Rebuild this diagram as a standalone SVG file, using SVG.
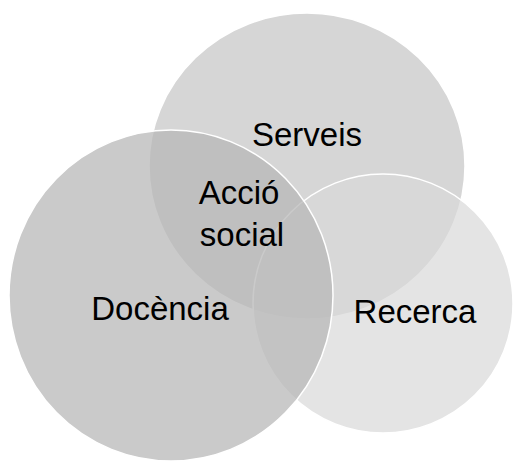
<svg xmlns="http://www.w3.org/2000/svg" width="516" height="461" viewBox="0 0 516 461">
<style>
.c{stroke:#ffffff;stroke-width:1.5}
.t{font-family:"Liberation Sans",Arial,sans-serif;font-size:33px;fill:#000;text-anchor:middle}
</style>
<rect width="516" height="461" fill="#ffffff"/>
<g id="serveis">
<ellipse class="c" cx="307" cy="166" rx="158" ry="153" fill="#c4c4c4" fill-opacity="0.7"/>
<text class="t" x="307" y="146">Serveis</text>
</g>
<g id="recerca">
<ellipse class="c" cx="383" cy="303.5" rx="130" ry="129.5" fill="#d8d8d8" fill-opacity="0.7"/>
<text class="t" x="415" y="323">Recerca</text>
</g>
<g id="docencia">
<ellipse class="c" cx="171" cy="295.5" rx="162" ry="165.5" fill="#b6b6b6" fill-opacity="0.73"/>
<text class="t" x="160" y="320">Docència</text>
</g>
<g id="acciosocial">
<text class="t" x="239" y="204">Acció</text>
<text class="t" x="242" y="246">social</text>
</g>
<g id="connectors"></g>
</svg>
